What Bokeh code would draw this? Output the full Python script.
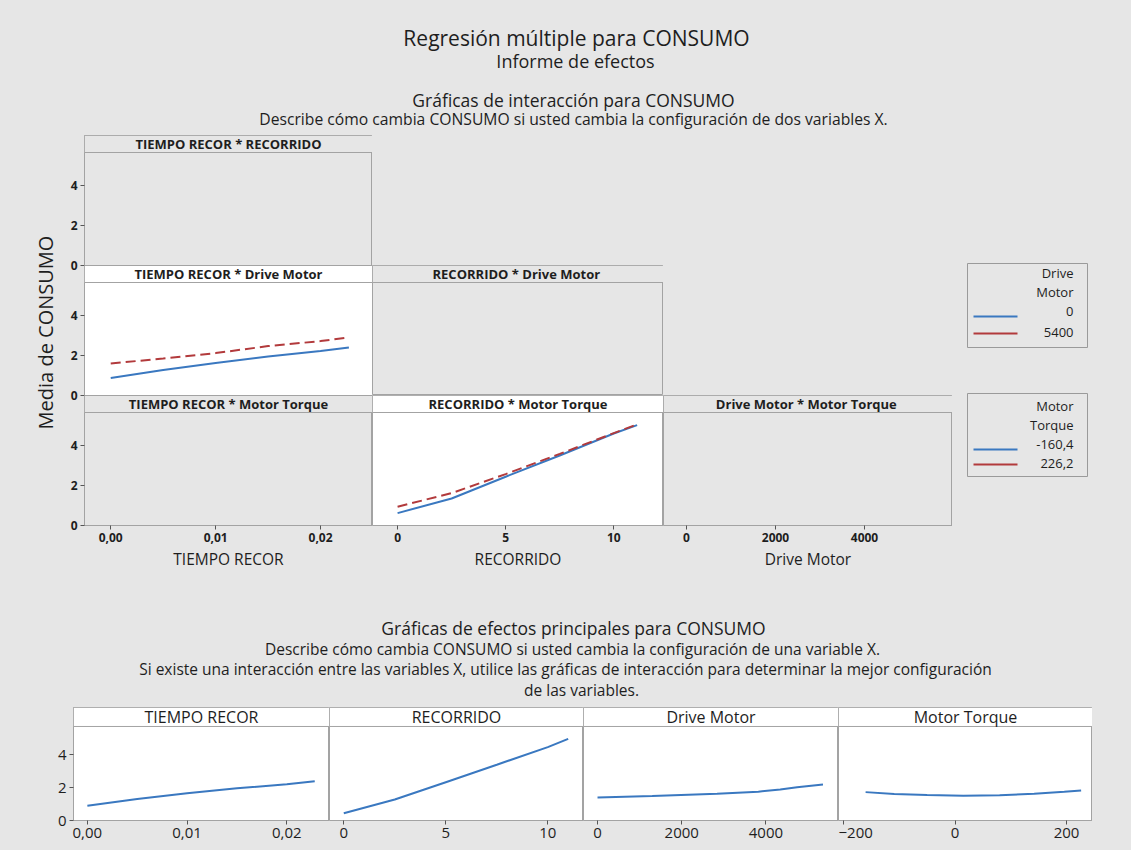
import math
from bokeh.plotting import figure
from bokeh.layouts import column, row
from bokeh.models import Range1d, FixedTicker, CustomJSTickFormatter, BoxAnnotation, Label
from bokeh.core.properties import value
from bokeh.embed import file_html
from bokeh.resources import INLINE

# ---------------- data ----------------
# Interaction: TIEMPO RECOR * Drive Motor
int_tiempo_x = [0.0, 0.005, 0.010, 0.015, 0.020, 0.0227]
int_tiempo_drive_0 = [0.88, 1.28, 1.63, 1.95, 2.22, 2.40]
int_tiempo_drive_5400 = [1.60, 1.85, 2.12, 2.47, 2.72, 2.90]
# Interaction: RECORRIDO * Motor Torque
int_recorrido_x = [0.0, 2.5, 5.0, 7.5, 10.0, 11.08]
int_recorrido_torque_lo = [0.62, 1.35, 2.44, 3.50, 4.60, 5.02]
int_recorrido_torque_hi = [0.94, 1.62, 2.57, 3.58, 4.62, 5.06]
drive_levels = ["0", "5400"]
torque_levels = ["-160,4", "226,2"]

# Main effects
me_tiempo_x = [0.0, 0.005, 0.010, 0.015, 0.020, 0.0228]
me_tiempo_y = [0.90, 1.30, 1.65, 1.95, 2.20, 2.38]
me_recorrido_x = [0.0, 2.5, 5.0, 7.5, 10.0, 11.0]
me_recorrido_y = [0.44, 1.27, 2.32, 3.38, 4.45, 4.95]
me_drive_x = [0, 1300, 2840, 3820, 4340, 4740, 5355]
me_drive_y = [1.40, 1.48, 1.62, 1.75, 1.88, 2.02, 2.18]
me_torque_x = [-160.4, -109, -50, 15, 80, 142, 196, 226.2]
me_torque_y = [1.72, 1.61, 1.54, 1.50, 1.53, 1.62, 1.74, 1.82]

int_strip_labels = ["TIEMPO RECOR * RECORRIDO", "TIEMPO RECOR * Drive Motor",
                    "RECORRIDO  * Drive Motor", "TIEMPO RECOR * Motor Torque",
                    "RECORRIDO * Motor Torque", "Drive Motor  * Motor Torque"]
me_strip_labels = ["TIEMPO RECOR", "RECORRIDO", "Drive Motor", "Motor Torque"]
axis_titles = ["TIEMPO RECOR", "RECORRIDO", "Drive Motor"]
y_ticks = [0, 2, 4]

# ---------------- style ----------------
FONT = "Open Sans"
BG = "#e6e6e6"
EDGE = "#a3a3a3"
BLUE = "#3a78c0"
RED = "#b23a3c"
TXT = "#1e1e1e"
W = 1131

ROW_H = 6.5          # one interaction row (data + strip), in y units
STRIP_H = 0.85       # strip height, in y units
I_STRIP_FONT = "13px"
I_TICK_FONT = "12px"
M_YTOP, M_DATA_TOP = 6.85, 5.7
BGSTYLE = {"background-color": BG}


def canvas(w, h):
    p = figure(width=w, height=h, x_range=Range1d(0, w), y_range=Range1d(h, 0),
               output_backend="svg", toolbar_location=None,
               x_axis_location=None, y_axis_location=None, min_border=0)
    p.grid.visible = False
    p.outline_line_color = None
    p.background_fill_color = BG
    p.border_fill_color = BG
    return p


def txt(p, x, y, s, size, align="center", style="normal", angle=0.0):
    p.text(x=[x], y=[y], text=[s], text_align=align, text_baseline="middle",
           text_font=value(FONT), text_font_size=size, text_font_style=style,
           text_color=TXT, angle=angle)


def style_axis(ax, size, bold):
    ax.axis_line_color = EDGE
    ax.major_tick_line_color = "#555555"
    ax.minor_tick_line_color = None
    ax.major_tick_in = 0
    ax.major_tick_out = 4
    ax.major_label_text_font = FONT
    ax.major_label_text_font_size = size
    ax.major_label_text_font_style = "bold" if bold else "normal"
    ax.major_label_text_color = TXT
    ax.major_label_standoff = 3


def add_strip(p, xr, bottom, top, text, filled, size, style):
    p.add_layout(BoxAnnotation(bottom=bottom, top=top, fill_color="white" if filled else BG,
                               fill_alpha=1, line_color=EDGE, line_alpha=1, line_width=1))
    p.add_layout(Label(x=(xr[0] + xr[1]) / 2, y=(bottom + top) / 2, text=text,
                       text_align="center", text_baseline="middle", text_font=FONT,
                       text_font_size=size, text_font_style=style, text_color=TXT))


def add_xaxis(p, xticks, xfmt, xtitle, size, bold):
    p.xaxis.ticker = FixedTicker(ticks=xticks)
    if xfmt is not None:
        p.xaxis.formatter = xfmt
    style_axis(p.xaxis, size, bold)
    if xtitle:
        p.xaxis.axis_label = xtitle
        p.xaxis.axis_label_text_font = FONT
        p.xaxis.axis_label_text_font_size = "15.5px"
        p.xaxis.axis_label_text_font_style = "normal"
        p.xaxis.axis_label_text_color = TXT
        p.xaxis.axis_label_standoff = 3


def panel(width, height, xr, ytop, data_top, strip, filled, strip_size, strip_style,
          left_border=0, bottom_border=0, xticks=None, xfmt=None, xtitle=None,
          tick_size="12px", tick_bold=True):
    p = figure(width=width, height=height, x_range=Range1d(*xr), y_range=Range1d(0, ytop),
               output_backend="svg", toolbar_location=None,
               x_axis_location="below" if bottom_border else None,
               y_axis_location="left" if left_border else None,
               min_border_left=left_border, min_border_right=0, min_border_top=0,
               min_border_bottom=bottom_border)
    p.grid.visible = False
    p.background_fill_color = "white" if filled else BG
    p.border_fill_color = BG
    p.outline_line_color = EDGE
    add_strip(p, xr, data_top, ytop, strip, filled, strip_size, strip_style)
    if left_border:
        p.yaxis.ticker = FixedTicker(ticks=y_ticks)
        style_axis(p.yaxis, tick_size, tick_bold)
    if bottom_border:
        add_xaxis(p, xticks, xfmt, xtitle, tick_size, tick_bold)
    return p


comma2 = CustomJSTickFormatter(code="return tick.toFixed(2).replace('.', ',');")

# ---------------- header ----------------
header = canvas(W, 135)
txt(header, 576, 37, "Regresión múltiple para CONSUMO", "21px")
txt(header, 575, 60, "Informe de efectos", "18px")
txt(header, 573, 99, "Gráficas de interacción para CONSUMO", "17.5px")
txt(header, 573, 118, "Describe cómo cambia CONSUMO si usted cambia la configuración de dos variables X.", "15.7px")

# ---------------- interaction block ----------------
XR1 = (-0.0025, 0.02495)
XR2 = (-1.16, 12.3)
XR3 = (-517, 5977)

ylab = canvas(58, 440)
txt(ylab, 45, 197, "Media de CONSUMO", "20px", angle=math.pi / 2)

# first column: three stacked facets sharing one y axis (row 3 at the bottom)
col1 = figure(width=314, height=440, x_range=Range1d(*XR1), y_range=Range1d(0, 3 * ROW_H),
              output_backend="svg", toolbar_location=None,
              min_border_left=26, min_border_right=0, min_border_top=0, min_border_bottom=50)
col1.extra_y_ranges = {"row2": Range1d(-ROW_H, 2 * ROW_H), "row1": Range1d(-2 * ROW_H, ROW_H)}
col1.grid.visible = False
col1.background_fill_color = BG
col1.border_fill_color = BG
col1.outline_line_color = EDGE
col1.add_layout(BoxAnnotation(bottom=ROW_H, top=2 * ROW_H - STRIP_H, fill_color="white",
                              fill_alpha=1, line_alpha=0, level="underlay"))
add_strip(col1, XR1, 3 * ROW_H - STRIP_H, 3 * ROW_H, int_strip_labels[0], False, I_STRIP_FONT, "bold")
add_strip(col1, XR1, 2 * ROW_H - STRIP_H, 2 * ROW_H, int_strip_labels[1], True, I_STRIP_FONT, "bold")
add_strip(col1, XR1, ROW_H - STRIP_H, ROW_H, int_strip_labels[3], False, I_STRIP_FONT, "bold")
col1.line(int_tiempo_x, int_tiempo_drive_0, line_color=BLUE, line_width=2, y_range_name="row2")
col1.line(int_tiempo_x, int_tiempo_drive_5400, line_color=RED, line_width=2, line_dash="10 5",
          y_range_name="row2")
col1.yaxis.ticker = FixedTicker(ticks=[t + k * ROW_H for k in range(3) for t in y_ticks])
col1.yaxis.formatter = CustomJSTickFormatter(
    args={"h": ROW_H}, code="return String(Math.round(tick - h * Math.floor((tick + 0.01) / h)));")
style_axis(col1.yaxis, I_TICK_FONT, True)
add_xaxis(col1, [0.0, 0.01, 0.02], comma2, axis_titles[0], I_TICK_FONT, True)

r2c2 = panel(291, 130, XR2, ROW_H, ROW_H - STRIP_H, int_strip_labels[2], False, I_STRIP_FONT, "bold")
r3c2 = panel(291, 180, XR2, ROW_H, ROW_H - STRIP_H, int_strip_labels[4], True, I_STRIP_FONT, "bold",
             bottom_border=50, xticks=[0, 5, 10], xtitle=axis_titles[1], tick_size=I_TICK_FONT)
r3c2.line(int_recorrido_x, int_recorrido_torque_lo, line_color=BLUE, line_width=2)
r3c2.line(int_recorrido_x, int_recorrido_torque_hi, line_color=RED, line_width=2, line_dash="10 5")

r3c3 = panel(289, 180, XR3, ROW_H, ROW_H - STRIP_H, int_strip_labels[5], False, I_STRIP_FONT, "bold",
             bottom_border=50, xticks=[0, 2000, 4000], xtitle=axis_titles[2], tick_size=I_TICK_FONT)

col2 = column(canvas(291, 130), r2c2, r3c2, spacing=0, styles=BGSTYLE)
col3 = column(canvas(289, 260), r3c3, spacing=0, styles=BGSTYLE)

leg = canvas(179, 440)
# legend 1 (Drive Motor)
leg.quad(left=[15], right=[135], top=[128], bottom=[212], fill_color=BG, line_color="#9a9a9a")
txt(leg, 121, 137, "Drive", "13px", align="right")
txt(leg, 121, 156, "Motor", "13px", align="right")
txt(leg, 121, 176, drive_levels[0], "13px", align="right")
txt(leg, 121, 197, drive_levels[1], "13px", align="right")
leg.segment(x0=[21, 21], y0=[181, 198], x1=[65, 65], y1=[181, 198], line_color=[BLUE, RED], line_width=2)
# legend 2 (Motor Torque)
leg.quad(left=[15], right=[135], top=[258], bottom=[341], fill_color=BG, line_color="#9a9a9a")
txt(leg, 121, 270, "Motor", "13px", align="right")
txt(leg, 121, 289, "Torque", "13px", align="right")
txt(leg, 121, 309, torque_levels[0], "13px", align="right")
txt(leg, 121, 328, torque_levels[1], "13px", align="right")
leg.segment(x0=[21, 21], y0=[314, 329], x1=[65, 65], y1=[314, 329], line_color=[BLUE, RED], line_width=2)

mid = row(column(ylab, spacing=0, styles=BGSTYLE), column(col1, spacing=0, styles=BGSTYLE),
          col2, col3, column(leg, spacing=0, styles=BGSTYLE), spacing=0, styles=BGSTYLE)

# ---------------- main effects ----------------
header2 = canvas(W, 132)
txt(header2, 573, 52, "Gráficas de efectos principales para CONSUMO", "17.5px")
txt(header2, 572, 73, "Describe cómo cambia CONSUMO si usted cambia la configuración de una variable X.", "15.5px")
txt(header2, 565, 93, "Si existe una interacción entre las variables X, utilice las gráficas de interacción para determinar la mejor configuración", "15.5px")
txt(header2, 581, 114, "de las variables.", "15.5px")

M_STRIP_FONT = "16px"
M_TICK_FONT = "15px"
m1 = panel(329, 143, (-0.00139, 0.02428), M_YTOP, M_DATA_TOP, me_strip_labels[0], True, M_STRIP_FONT, "normal",
           left_border=73, bottom_border=30, xticks=[0.0, 0.01, 0.02], xfmt=comma2, tick_size=M_TICK_FONT, tick_bold=False)
m1.line(me_tiempo_x, me_tiempo_y, line_color=BLUE, line_width=2)
m2 = panel(254, 143, (-0.70, 11.75), M_YTOP, M_DATA_TOP, me_strip_labels[1], True, M_STRIP_FONT, "normal",
           bottom_border=30, xticks=[0, 5, 10], tick_size=M_TICK_FONT, tick_bold=False)
m2.line(me_recorrido_x, me_recorrido_y, line_color=BLUE, line_width=2)
m3 = panel(255, 143, (-333, 5724), M_YTOP, M_DATA_TOP, me_strip_labels[2], True, M_STRIP_FONT, "normal",
           bottom_border=30, xticks=[0, 2000, 4000], tick_size=M_TICK_FONT, tick_bold=False)
m3.line(me_drive_x, me_drive_y, line_color=BLUE, line_width=2)
m4 = panel(254, 143, (-209, 246.6), M_YTOP, M_DATA_TOP, me_strip_labels[3], True, M_STRIP_FONT, "normal",
           bottom_border=30, xticks=[-200, 0, 200], tick_size=M_TICK_FONT, tick_bold=False)
m4.line(me_torque_x, me_torque_y, line_color=BLUE, line_width=2)

bottom = row(m1, m2, m3, m4, canvas(39, 143), spacing=0, styles=BGSTYLE)

layout = column(header, mid, header2, bottom, spacing=0, styles=BGSTYLE)

open("out.html", "w").write(file_html(layout, INLINE, "Regresión múltiple para CONSUMO"))
